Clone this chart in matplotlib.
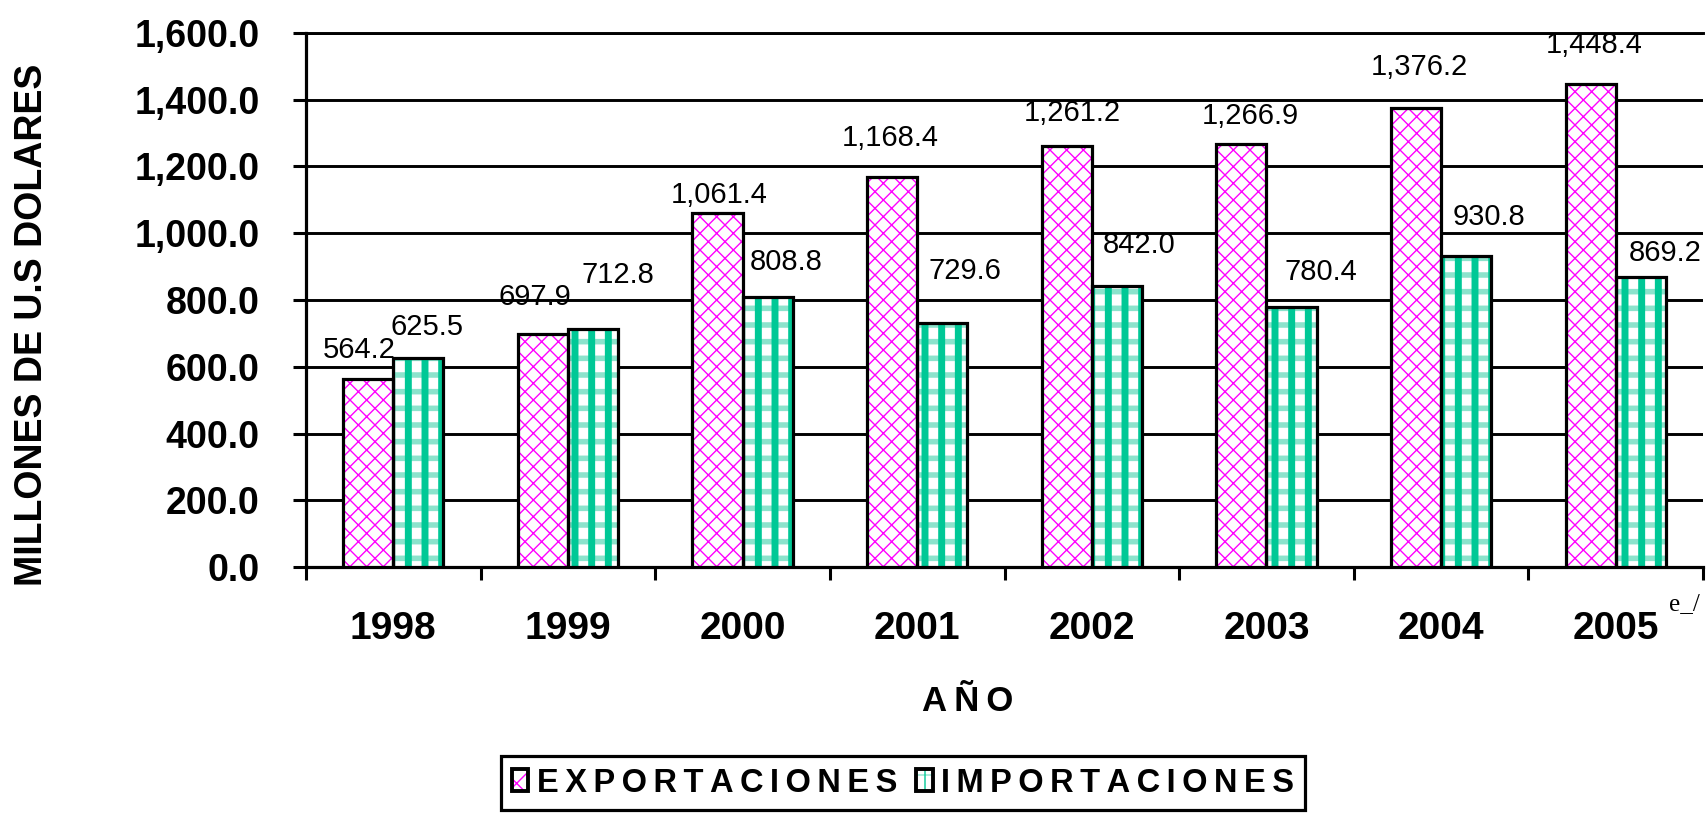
import numpy as np
import matplotlib.pyplot as plt
import matplotlib.patches as mpatches
from matplotlib.legend_handler import HandlerTuple

plt.rcParams['font.family'] = ['Liberation Sans', 'DejaVu Sans']
plt.rcParams['hatch.linewidth'] = 1.0

# datos (millones de US$)
years = ['1998', '1999', '2000', '2001', '2002', '2003', '2004', '2005']
exportaciones = [564.2, 697.9, 1061.4, 1168.4, 1261.2, 1266.9, 1376.2, 1448.4]
importaciones = [625.5, 712.8, 808.8, 729.6, 842.0, 780.4, 930.8, 869.2]
yticks = [0, 200, 400, 600, 800, 1000, 1200, 1400, 1600]

# posicion de las etiquetas (pixeles desde el tope de la barra)
exp_dx = [-9, -8, 2, -2, 6, 9, 3, 4]
exp_dy = [29, 37, 18, 39, 33, 28, 41, 39]
imp_dx = [9, 25, 19, 23, 22, 29, 23, 24]
imp_dy = [31, 54, 35, 52, 41, 35, 39, 24]

MAGENTA = '#FF00FF'
TEAL = '#00C896'
TEAL_LT = '#8CE3CC'
W, H = 1707, 813


def hatch_lw(p, lw):
    if hasattr(p, 'set_hatch_linewidth'):
        p.set_hatch_linewidth(lw)


def spaced(s, sep='\u2009'):
    return sep.join(s)


fig = plt.figure(figsize=(W / 100, H / 100), dpi=100)
ax = fig.add_axes([306 / W, 1 - 567 / H, (1703 - 306) / W, (567 - 33) / H])

x = np.arange(len(years))
w = 0.287

ex_fill = ax.bar(x - w / 2, exportaciones, w, color='white', edgecolor=MAGENTA,
                 hatch='xx', linewidth=0, zorder=3)
im_band = ax.bar(x + w / 2, importaciones, w, color='white', edgecolor=TEAL_LT,
                 hatch='-', linewidth=0, zorder=3)
im_strp = ax.bar(x + w / 2, importaciones, w, color='none', edgecolor=TEAL,
                 hatch='|', linewidth=0, zorder=3)
for b in ex_fill:
    hatch_lw(b, 1.0)
for b in im_band:
    hatch_lw(b, 4.0)
for b in im_strp:
    hatch_lw(b, 5.0)
ax.bar(x - w / 2, exportaciones, w, fill=False, edgecolor='black', linewidth=2.3, zorder=4)
ax.bar(x + w / 2, importaciones, w, fill=False, edgecolor='black', linewidth=2.3, zorder=4)

for i, v in enumerate(exportaciones):
    ax.annotate(f'{v:,.1f}', xy=(x[i] - w / 2, v), xytext=(exp_dx[i], exp_dy[i]),
                textcoords='offset pixels', ha='center', va='center',
                fontsize=21, zorder=5, annotation_clip=False)
for i, v in enumerate(importaciones):
    ax.annotate(f'{v:,.1f}', xy=(x[i] + w / 2, v), xytext=(imp_dx[i], imp_dy[i]),
                textcoords='offset pixels', ha='center', va='center',
                fontsize=21, zorder=5, annotation_clip=False)

ax.set_xlim(-0.5, len(years) - 0.5)
ax.set_ylim(0, 1600)
ax.set_yticks(yticks)
ax.set_yticklabels([f'{t:,.1f}' for t in yticks], fontsize=27, fontweight='bold')
ax.set_xticks(x)
ax.set_xticklabels(years, fontsize=28, fontweight='bold')
ax.set_xticks(np.arange(len(years) + 1) - 0.5, minor=True)
ax.tick_params(axis='x', which='major', length=0, pad=32)
ax.tick_params(axis='x', which='minor', length=9.5, width=2.2, direction='out')
ax.tick_params(axis='y', length=9.5, width=2.2, direction='out', pad=24)

ax.grid(axis='y', color='black', linewidth=2.1, zorder=1)
ax.set_axisbelow(True)
ax.spines['right'].set_visible(False)
ax.spines['top'].set_linewidth(2.1)
ax.spines['left'].set_linewidth(2.3)
ax.spines['bottom'].set_linewidth(2.3)

fig.text(32 / W, 1 - 325 / H, 'MILLONES DE U.S DOLARES', rotation=90, ha='center',
         va='center', fontsize=27, fontweight='bold')
fig.text(968 / W, 1 - 701 / H, spaced('AÑO'), ha='center', va='center',
         fontsize=25, fontweight='bold')
fig.text(1684 / W, 1 - 604 / H, 'e_/', ha='center', va='center', fontsize=18,
         family=['Liberation Serif', 'DejaVu Serif'])

# leyenda
h_ex = (mpatches.Patch(facecolor='white', edgecolor=MAGENTA, hatch='x', linewidth=0),
        mpatches.Patch(fill=False, edgecolor='black', linewidth=2.8))
h_im = (mpatches.Patch(facecolor='white', edgecolor=TEAL_LT, hatch='-', linewidth=0),
        mpatches.Patch(facecolor='none', edgecolor=TEAL, hatch='|', linewidth=0),
        mpatches.Patch(fill=False, edgecolor='black', linewidth=2.8))
hatch_lw(h_ex[0], 1.2)
hatch_lw(h_im[0], 4.0)
hatch_lw(h_im[1], 5.0)
leg = fig.legend([h_ex, h_im], [spaced('EXPORTACIONES'), spaced('IMPORTACIONES')],
                 handler_map={tuple: HandlerTuple(ndivide=1)},
                 loc='center', bbox_to_anchor=(903 / W, 1 - 783 / H), ncol=2,
                 fancybox=False, edgecolor='black', framealpha=1,
                 prop={'size': 23.5, 'weight': 'bold'},
                 handlelength=0.5, handleheight=0.65, handletextpad=0.25,
                 columnspacing=0.6, borderpad=0.35, borderaxespad=0)
leg.get_frame().set_linewidth(2.3)

fig.savefig('out.png', dpi=100)
